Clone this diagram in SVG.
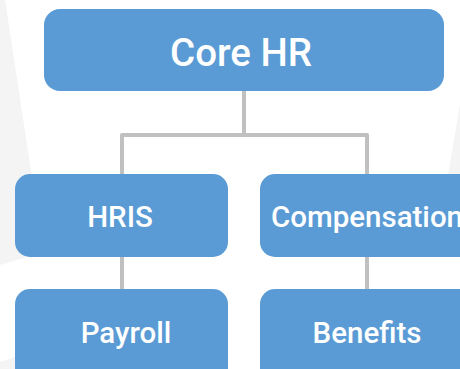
<svg xmlns="http://www.w3.org/2000/svg" width="460" height="369" viewBox="0 0 460 369">
  <style>
    .bg { fill: #f4f4f4; }
    .box { fill: #5a9bd5; }
    .label { fill: #ffffff; font-family: Roboto, "Liberation Sans", sans-serif; font-weight: 500; text-anchor: middle; }
    .big { font-size: 38.5px; }
    .small { font-size: 29.5px; }
    .conn { fill: none; stroke: #c0c0c0; stroke-width: 4; stroke-linejoin: round; }
  </style>
  <rect width="460" height="369" fill="#ffffff"/>
  <!-- soft background panels -->
  <polygon class="bg" points="0,0 5,0 40,230 30,256 0,265"/>
  <polygon class="bg" points="0,362 15,357 20,369 0,369"/>
  <polygon class="bg" points="460,104 448,175 460,175"/>

  <g id="connectors">
    <path class="conn" d="M244,91 V135 M122,175 V135 H367 V175"/>
    <path class="conn" d="M122,257 V289"/>
    <path class="conn" d="M367,257 V289"/>
  </g>

  <g id="core-hr">
    <rect class="box" x="44" y="9" width="400" height="82" rx="16"/>
    <text class="label big" x="241" y="66">Core HR</text>
  </g>
  <g id="hris">
    <rect class="box" x="15" y="174" width="213" height="83" rx="15"/>
    <text class="label small" x="120" y="227">HRIS</text>
  </g>
  <g id="compensation">
    <rect class="box" x="260" y="174" width="213" height="83" rx="15"/>
    <text class="label small" x="367" y="227">Compensation</text>
  </g>
  <g id="payroll">
    <rect class="box" x="15" y="289" width="213" height="95" rx="15"/>
    <text class="label small" x="126" y="343">Payroll</text>
  </g>
  <g id="benefits">
    <rect class="box" x="260" y="289" width="213" height="95" rx="15"/>
    <text class="label small" x="367" y="343">Benefits</text>
  </g>
</svg>
